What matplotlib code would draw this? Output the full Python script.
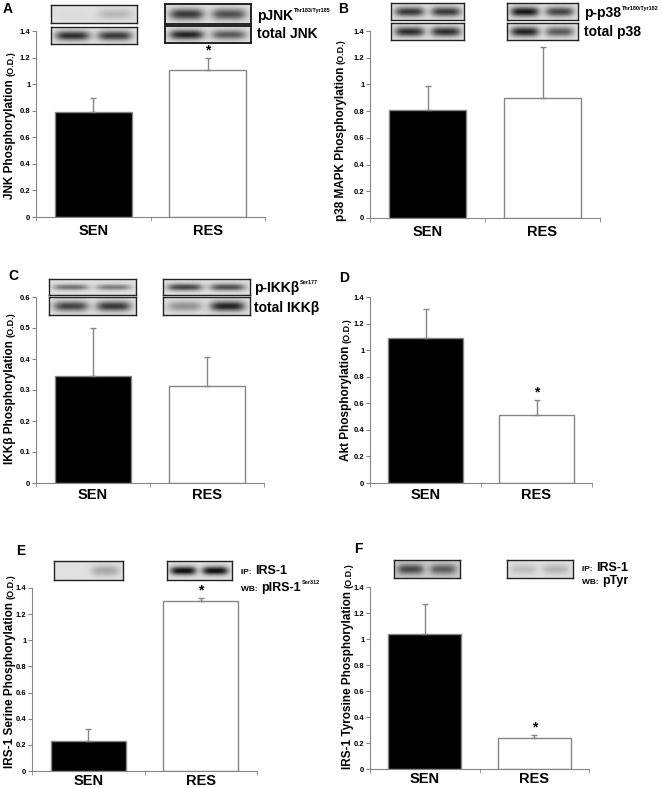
import numpy as np
import matplotlib.pyplot as plt

plt.rcParams['font.family'] = ['Liberation Sans', 'DejaVu Sans']
plt.rcParams['font.weight'] = 'bold'

groups = ['SEN', 'RES']

# bar heights and upper error (O.D.)
jnk_mean = [0.79, 1.11]
jnk_err = [0.105, 0.085]
p38_mean = [0.81, 0.90]
p38_err = [0.175, 0.38]
ikk_mean = [0.345, 0.312]
ikk_err = [0.156, 0.096]
akt_mean = [1.09, 0.515]
akt_err = [0.22, 0.112]
ser_mean = [0.232, 1.30]
ser_err = [0.087, 0.026]
tyr_mean = [1.042, 0.235]
tyr_err = [0.228, 0.026]

# western blot band darkness, two lanes per blot
jnk_p_sen = [0.02, 0.18]
jnk_p_res = [0.75, 0.65]
jnk_t_sen = [0.8, 0.75]
jnk_t_res = [0.85, 0.6]
p38_p_sen = [0.75, 0.75]
p38_p_res = [0.9, 0.7]
p38_t_sen = [0.8, 0.8]
p38_t_res = [0.85, 0.6]
ikk_p_sen = [0.5, 0.45]
ikk_p_res = [0.7, 0.65]
ikk_t_sen = [0.7, 0.75]
ikk_t_res = [0.35, 0.85]
ser_sen = [0.0, 0.25]
ser_res = [0.95, 0.95]
tyr_sen = [0.65, 0.55]
tyr_res = [0.15, 0.2]

W, H = 662, 788
fig = plt.figure(figsize=(W / 100, H / 100), dpi=100)
rend = fig.canvas.get_renderer()
GRAY = '#858585'


def box(x0, y0, x1, y1):
    return [x0 / W, 1 - y1 / H, (x1 - x0) / W, (y1 - y0) / H]


def panel(x0, ytop, x1, ybot, means, errs, ymax, step, star=None, pad=5):
    ax = fig.add_axes(box(x0, ytop, x1, ybot))
    xs = [0.5, 1.5]
    ax.bar(xs, means, width=0.67, color=['black', 'white'],
           edgecolor=GRAY, linewidth=1, zorder=2)
    ax.errorbar(xs, means, yerr=[[0, 0], errs], fmt='none', ecolor=GRAY,
                elinewidth=1, capsize=2.5, capthick=1, zorder=3)
    ax.set_xlim(0, 2)
    ax.set_ylim(0, ymax)
    ticks = np.round(np.arange(0, ymax + step / 2, step), 2)
    ax.set_yticks(ticks)
    ax.set_yticklabels([f'{t:g}' for t in ticks], fontsize=5.5)
    ax.set_xticks(xs)
    ax.set_xticklabels(groups, fontsize=10.5)
    ax.set_xticks([0, 1, 2], minor=True)
    ax.tick_params(axis='x', which='major', length=0, pad=pad)
    ax.tick_params(axis='x', which='minor', length=3, direction='out', color=GRAY)
    ax.tick_params(axis='y', length=3, direction='out', color=GRAY, pad=1)
    for s in ['top', 'right']:
        ax.spines[s].set_visible(False)
    for s in ['left', 'bottom']:
        ax.spines[s].set_color(GRAY)
    if star is not None:
        ax.annotate('*', (xs[star], means[star] + errs[star]), xytext=(0, 0.5),
                    textcoords='offset points', ha='center', va='bottom', fontsize=10)
    return ax


def blot(x0, y0, x1, y1, lanes, thick=0.28, bg=0.88, lw=1.0):
    ax = fig.add_axes(box(x0, y0, x1, y1))
    yy, xx = np.mgrid[0:40, 0:200]
    yy = yy / 40
    xx = xx / 200
    dark = np.zeros(xx.shape)
    for cx, a in zip([0.25, 0.74], lanes):
        dark += a * np.exp(-((xx - cx) / 0.2) ** 4) * np.exp(-((yy - 0.5) / thick) ** 2)
    img = bg * (1 - np.clip(dark, 0, 1))
    ax.imshow(img, cmap='gray', vmin=0, vmax=1, aspect='auto', interpolation='bilinear')
    ax.set_xticks([])
    ax.set_yticks([])
    for s in ax.spines.values():
        s.set_linewidth(lw)
        s.set_color('#222222')


def put(parts, x, y, rot=0):
    # parts: (text, size, raise_px); x, y in image pixels (y = baseline)
    pos = x if rot == 0 else H - y
    for txt, size, dy in parts:
        if rot == 0:
            t = fig.text(pos / W, 1 - (y - dy) / H, txt, fontsize=size,
                         ha='left', va='baseline')
            pos = t.get_window_extent(rend).x1 + 1
        else:
            t = fig.text((x - dy) / W, pos / H, txt, fontsize=size, rotation=90,
                         rotation_mode='anchor', ha='left', va='baseline')
            pos = t.get_window_extent(rend).y1 + 3


YL, OD = 8.5, 6.5

# A
panel(36, 31, 265, 217, jnk_mean, jnk_err, 1.4, 0.2, star=1)
blot(51, 5, 137, 23, jnk_p_sen)
blot(51, 27, 137, 44, jnk_t_sen)
blot(165, 4, 251, 24, jnk_p_res, lw=1.4)
blot(165, 26, 251, 43, jnk_t_res, lw=1.4)
put([('pJNK', 10, 0), ('Thr183/Tyr185', 4, 8)], 257, 20)
put([('total JNK', 10, 0)], 257, 38)
put([('JNK Phosphorylation', YL, 0), ('(O.D.)', OD, 0)], 13, 199, rot=90)
put([('A', 10, 0)], 3, 13)

# B
panel(370, 31, 600, 218, p38_mean, p38_err, 1.4, 0.2)
blot(391, 3, 464, 20, p38_p_sen)
blot(391, 23, 464, 40, p38_t_sen)
blot(507, 3, 578, 20, p38_p_res)
blot(507, 23, 578, 40, p38_t_res)
put([('p-p38', 10, 0), ('Thr180/Tyr182', 4, 7)], 584, 17)
put([('total p38', 10, 0)], 584, 36)
put([('p38 MAPK Phosphorylation', YL, 0), ('(O.D.)', OD, 0)], 344, 221, rot=90)
put([('B', 10, 0)], 338, 13)

# C
panel(36, 297, 264, 483, ikk_mean, ikk_err, 0.6, 0.1, pad=3.5)
blot(49, 279, 136, 295, ikk_p_sen, thick=0.18)
blot(49, 297, 136, 315, ikk_t_sen)
blot(163, 279, 250, 295, ikk_p_res, thick=0.22)
blot(163, 297, 250, 315, ikk_t_res)
put([('p-IKK\u03b2', 10, 0), ('Ser177', 4, 8)], 254, 292)
put([('total IKK\u03b2', 10, 0)], 254, 312)
put([('IKK\u03b2 Phosphorylation', YL, 0), ('(O.D.)', OD, 0)], 13, 464, rot=90)
put([('C', 10, 0)], 8, 280)

# D
panel(370, 297, 592, 483, akt_mean, akt_err, 1.4, 0.2, star=1, pad=3.5)
put([('Akt Phosphorylation', YL, 0), ('(O.D.)', OD, 0)], 349, 461, rot=90)
put([('D', 10, 0)], 339, 282)

# E
panel(32, 588, 257, 771, ser_mean, ser_err, 1.4, 0.2, star=1, pad=2.5)
blot(54, 561, 123, 580, ser_sen)
blot(167, 561, 232, 580, ser_res, thick=0.22)
put([('IP: ', 6, 0), ('IRS-1', 9, 0)], 241, 574)
put([('WB: ', 6, 0), ('pIRS-1', 9, 0), ('Ser312', 4, 7)], 241, 591)
put([('IRS-1 Serine Phosphorylation', YL, 0), ('(O.D.)', OD, 0)], 13, 768, rot=90)
put([('E', 10, 0)], 16, 555)

# F
panel(370, 587, 589, 769, tyr_mean, tyr_err, 1.4, 0.2, star=1, pad=2.5)
blot(394, 560, 460, 578, tyr_sen, bg=0.8)
blot(507, 560, 573, 578, tyr_res)
put([('IP: ', 6, 0), ('IRS-1', 9, 0)], 582, 571)
put([('WB: ', 6, 0), ('pTyr', 9, 0)], 582, 584)
put([('IRS-1 Tyrosine Phosphorylation', YL, 0), ('(O.D.)', OD, 0)], 351, 769, rot=90)
put([('F', 10, 0)], 354, 553)

fig.savefig('out.png', dpi=100)
